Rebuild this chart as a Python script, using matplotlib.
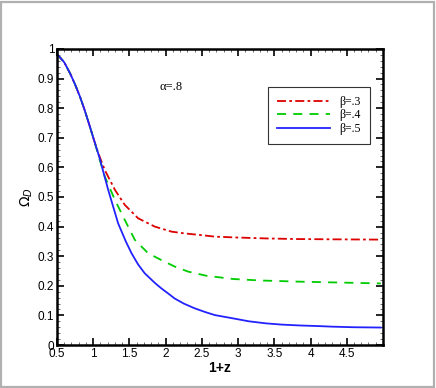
import matplotlib
matplotlib.use("Agg")
import matplotlib.pyplot as plt
from matplotlib.patches import Rectangle
from matplotlib.ticker import MultipleLocator

# data
x_blue = [0.5, 0.6, 0.68, 0.75, 0.817, 0.88, 0.955, 1.014, 1.09, 1.207, 1.344, 1.45, 1.529, 1.62, 1.712,
          1.85, 1.942, 2.03, 2.125, 2.25, 2.4, 2.55, 2.68, 2.93, 3.15, 3.39, 3.6, 3.85, 4.1, 4.3, 4.6, 4.97]
y_blue = [0.983, 0.955, 0.918, 0.88, 0.839, 0.795, 0.737, 0.69, 0.63, 0.524, 0.411, 0.35, 0.31, 0.272, 0.242,
          0.21, 0.191, 0.175, 0.157, 0.14, 0.124, 0.111, 0.101, 0.09, 0.08, 0.073, 0.069, 0.066, 0.064, 0.062, 0.06, 0.059]

x_red = [0.5, 0.6, 0.68, 0.75, 0.817, 0.88, 0.955, 1.014, 1.07, 1.16, 1.30, 1.437, 1.62, 1.85, 2.08, 2.26,
         2.5, 2.68, 3.0, 3.39, 3.8, 4.3, 4.97]
y_red = [0.983, 0.955, 0.918, 0.88, 0.839, 0.795, 0.737, 0.69, 0.648, 0.591, 0.524, 0.473, 0.428, 0.40, 0.383, 0.377,
         0.371, 0.366, 0.363, 0.36, 0.358, 0.357, 0.356]

x_green = [0.5, 0.6, 0.68, 0.75, 0.817, 0.88, 0.955, 1.014, 1.07, 1.16, 1.30, 1.437, 1.575, 1.758, 1.94, 2.125,
           2.31, 2.56, 2.93, 3.3, 3.85, 4.4, 4.97]
y_green = [0.983, 0.955, 0.918, 0.88, 0.839, 0.795, 0.737, 0.69, 0.642, 0.569, 0.49, 0.422, 0.355, 0.31, 0.287, 0.265,
           0.248, 0.234, 0.223, 0.218, 0.214, 0.211, 0.208]

labels = ["β=.3", "β=.4", "β=.5"]
xticks = [0.5, 1, 1.5, 2, 2.5, 3, 3.5, 4, 4.5]
xtick_labels = ["0.5", "1", "1.5", "2", "2.5", "3", "3.5", "4", "4.5"]
yticks = [0, 0.1, 0.2, 0.3, 0.4, 0.5, 0.6, 0.7, 0.8, 0.9, 1.0]
ytick_labels = ["0", "0.1", "0.2", "0.3", "0.4", "0.5", "0.6", "0.7", "0.8", "0.9", "1"]

fig = plt.figure(figsize=(4.36, 3.88), dpi=100)
fig.patches.append(Rectangle((0.002, 0.002), 0.993, 0.994, transform=fig.transFigure,
                             fill=False, edgecolor="#b0b0b0", linewidth=1.6))
ax = fig.add_axes([0.1307, 0.1108, 0.7477, 0.763])

ax.plot(x_red, y_red, color="#dd0000", lw=1.3, dashes=(5, 1.8, 1.5, 1.8), label=labels[0])
ax.plot(x_green, y_green, color="#00cc00", lw=1.3, dashes=(5, 4), label=labels[1])
ax.plot(x_blue, y_blue, color="#2222ff", lw=1.3, label=labels[2])

ax.set_xlim(0.5, 5.0)
ax.set_ylim(0, 1)
ax.set_xticks(xticks)
ax.set_xticklabels(xtick_labels)
ax.set_yticks(yticks)
ax.set_yticklabels(ytick_labels)
ax.xaxis.set_minor_locator(MultipleLocator(0.1))
ax.yaxis.set_minor_locator(MultipleLocator(0.02))
ax.tick_params(which="both", direction="in", top=True, right=True, labelsize=8.5, pad=2)
ax.tick_params(which="major", length=5, width=1.2)
ax.tick_params(which="minor", length=2.5, width=0.6, color="#555555")
for lab in ax.get_xticklabels() + ax.get_yticklabels():
    lab.set_family("Liberation Sans")
for s in ax.spines.values():
    s.set_linewidth(1.8)

ax.set_xlabel("1+z", fontsize=10, fontweight="bold", family="Liberation Sans", labelpad=1)
ax.set_ylabel(r"$\Omega_D$", fontsize=10, labelpad=2)

ax.text(2.08, 0.87, "α=.8", fontsize=9, family="Liberation Serif", ha="center", va="center")

leg = ax.legend(loc="upper left", bbox_to_anchor=(0.647, 0.872), borderaxespad=0,
                prop={"family": "Liberation Serif", "size": 8.5},
                frameon=True, fancybox=False, edgecolor="black", handlelength=4.5, borderpad=0.8,
                labelspacing=0.1, handletextpad=0.75)
leg.get_frame().set_linewidth(0.8)

fig.savefig("out.png", dpi=100)
